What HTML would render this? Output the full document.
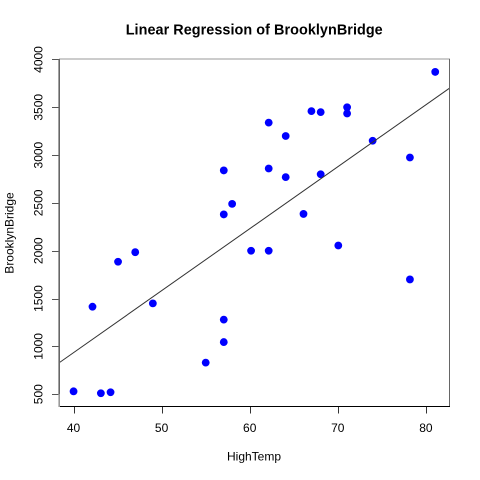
<!DOCTYPE html>
<html>
<head>
<meta charset="utf-8">
<title>Linear Regression of BrooklynBridge</title>
<style>
html,body{margin:0;padding:0;background:#fff;width:480px;height:480px;overflow:hidden}
svg{display:block}
text{font-family:"Liberation Sans",Arial,sans-serif;fill:#000}
</style>
</head>
<body>
<svg id="chart" xmlns="http://www.w3.org/2000/svg" width="480" height="480" viewBox="0 0 480 480">
  <rect x="0" y="0" width="480" height="480" fill="#fff"/>
  <text x="254.2" y="34.6" font-size="14.4" font-weight="bold" text-anchor="middle" textLength="257" lengthAdjust="spacing">Linear Regression of BrooklynBridge</text>
  <text x="254" y="460.7" font-size="12" text-anchor="middle">HighTemp</text>
  <text x="0" y="0" font-size="12" text-anchor="middle" transform="translate(13.4 233) rotate(-90)">BrooklynBridge</text>
  <g id="ticks"></g>
  <g id="points"></g>
  <g id="fit"></g>
  <g id="frame">
    <line x1="59" y1="59" x2="450" y2="59" stroke="#999" stroke-width="1"/>
    <line x1="449.5" y1="59" x2="449.5" y2="407" stroke="#666" stroke-width="1"/>
    <line x1="59" y1="406.5" x2="450" y2="406.5" stroke="#000" stroke-width="1"/>
    <line x1="59.2" y1="59" x2="59.2" y2="394" stroke="#666" stroke-width="1.6"/>
    <line x1="59.2" y1="394" x2="59.2" y2="407" stroke="#999" stroke-width="1.6"/>
  </g>
</svg>
<script>
const highTemp = [39.95,42.1,43.05,44.15,45,46.95,48.95,54.95,57,57,57,57,57.95,60.1,62.1,62.1,62.1,64.03,64.03,66.05,66.95,68,68,70,71,71,73.9,78.13,78.13,81];
const brooklynBridge = [530,1415,510,520,1885,1985,1450,830,1045,1280,2380,2840,2490,2000,2000,2860,3340,3200,2770,2385,3460,3450,2800,2055,3500,3435,3150,2975,1700,3870];
const xTickLabels = [40,50,60,70,80];
const yTickLabels = [500,1000,1500,2000,2500,3000,3500,4000];
const fitIntercept = -1654;
const fitSlope = 64.8;

const NS = 'http://www.w3.org/2000/svg';
const plot = {left:59, right:449.5, top:59, bottom:406.5};
function xScale(v){ return 74 + (v - 40) * 8.81; }
function yScale(v){ return 394.2 - (v - 500) * 0.09563; }
function xInvert(px){ return 40 + (px - 74) / 8.81; }
function make(tag, attrs){
  const el = document.createElementNS(NS, tag);
  for (const k in attrs) el.setAttribute(k, attrs[k]);
  return el;
}

const ticks = document.getElementById('ticks');
xTickLabels.forEach(function(v){
  const px = Math.round(xScale(v)) + 0.5;
  const t = make('line', {x1:px, x2:px, y1:plot.bottom, y2:plot.bottom + 7, stroke:'#333', 'stroke-width':1});
  
  
  ticks.appendChild(t);
  const l = make('text', {x:xScale(v) - 0.5, y:432, 'font-size':12, 'text-anchor':'middle'});
  l.textContent = v;
  
  
  ticks.appendChild(l);
});
yTickLabels.forEach(function(v){
  const py = Math.round(yScale(v)) + 0.5;
  const t = make('line', {x1:plot.left - 7, x2:plot.left, y1:py, y2:py, stroke:'#555', 'stroke-width':1});
  
  
  ticks.appendChild(t);
  const l = make('text', {x:0, y:0, 'font-size':12, 'text-anchor':'middle', transform:'translate(42.5 ' + yScale(v) + ') rotate(-90)'});
  l.textContent = v;
  
  
  ticks.appendChild(l);
});

const points = document.getElementById('points');
highTemp.forEach(function(t, i){
  const c = make('circle', {cx:xScale(t), cy:yScale(brooklynBridge[i]), r:3.9, fill:'#0000ff'});
  
  
  points.appendChild(c);
});

const fitAt = function(t){ return fitIntercept + fitSlope * t; };
const fitLine = make('line', {
  x1:plot.left,
  y1:yScale(fitAt(xInvert(plot.left))),
  x2:plot.right,
  y2:yScale(fitAt(xInvert(plot.right))),
  stroke:'#333',
  'stroke-width':1
});


document.getElementById('fit').appendChild(fitLine);
</script>
</body>
</html>
